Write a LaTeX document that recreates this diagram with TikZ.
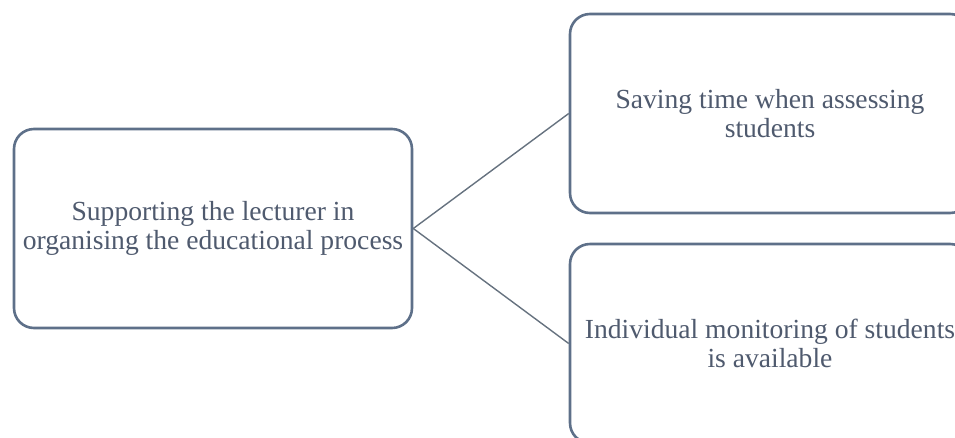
\documentclass[tikz,border=0pt]{standalone}
\usepackage{fontspec}
\setmainfont{Liberation Serif}
\begin{document}
\begin{tikzpicture}[x=1pt,y=-1pt,
  box/.style={draw=boxc, line width=2.6pt, rounded corners=20pt, fill=white,
    inner sep=0pt, align=center, text=txtc, font=\fontsize{27.6}{28.5}\selectfont},
  link/.style={draw=linec, line width=1.4pt}]
\definecolor{boxc}{HTML}{5E7089}
\definecolor{txtc}{HTML}{4F5A6E}
\definecolor{linec}{HTML}{66727F}
\useasboundingbox (0,0) rectangle (955,437);
\clip (0,0) rectangle (955,437);
\node[box, minimum width=398pt, minimum height=199pt] (main) at (213,228.5)
  {Supporting the lecturer in\\organising the educational process};
\node[box, minimum width=400pt, minimum height=199pt] (top) at (770,113.5)
  {Saving time when assessing\\students};
\node[box, minimum width=400pt, minimum height=199pt] (bot) at (770,343.5)
  {Individual monitoring of students\\is available};
\draw[link] (main.east) -- (top.west);
\draw[link] (main.east) -- (bot.west);
\end{tikzpicture}
\end{document}
